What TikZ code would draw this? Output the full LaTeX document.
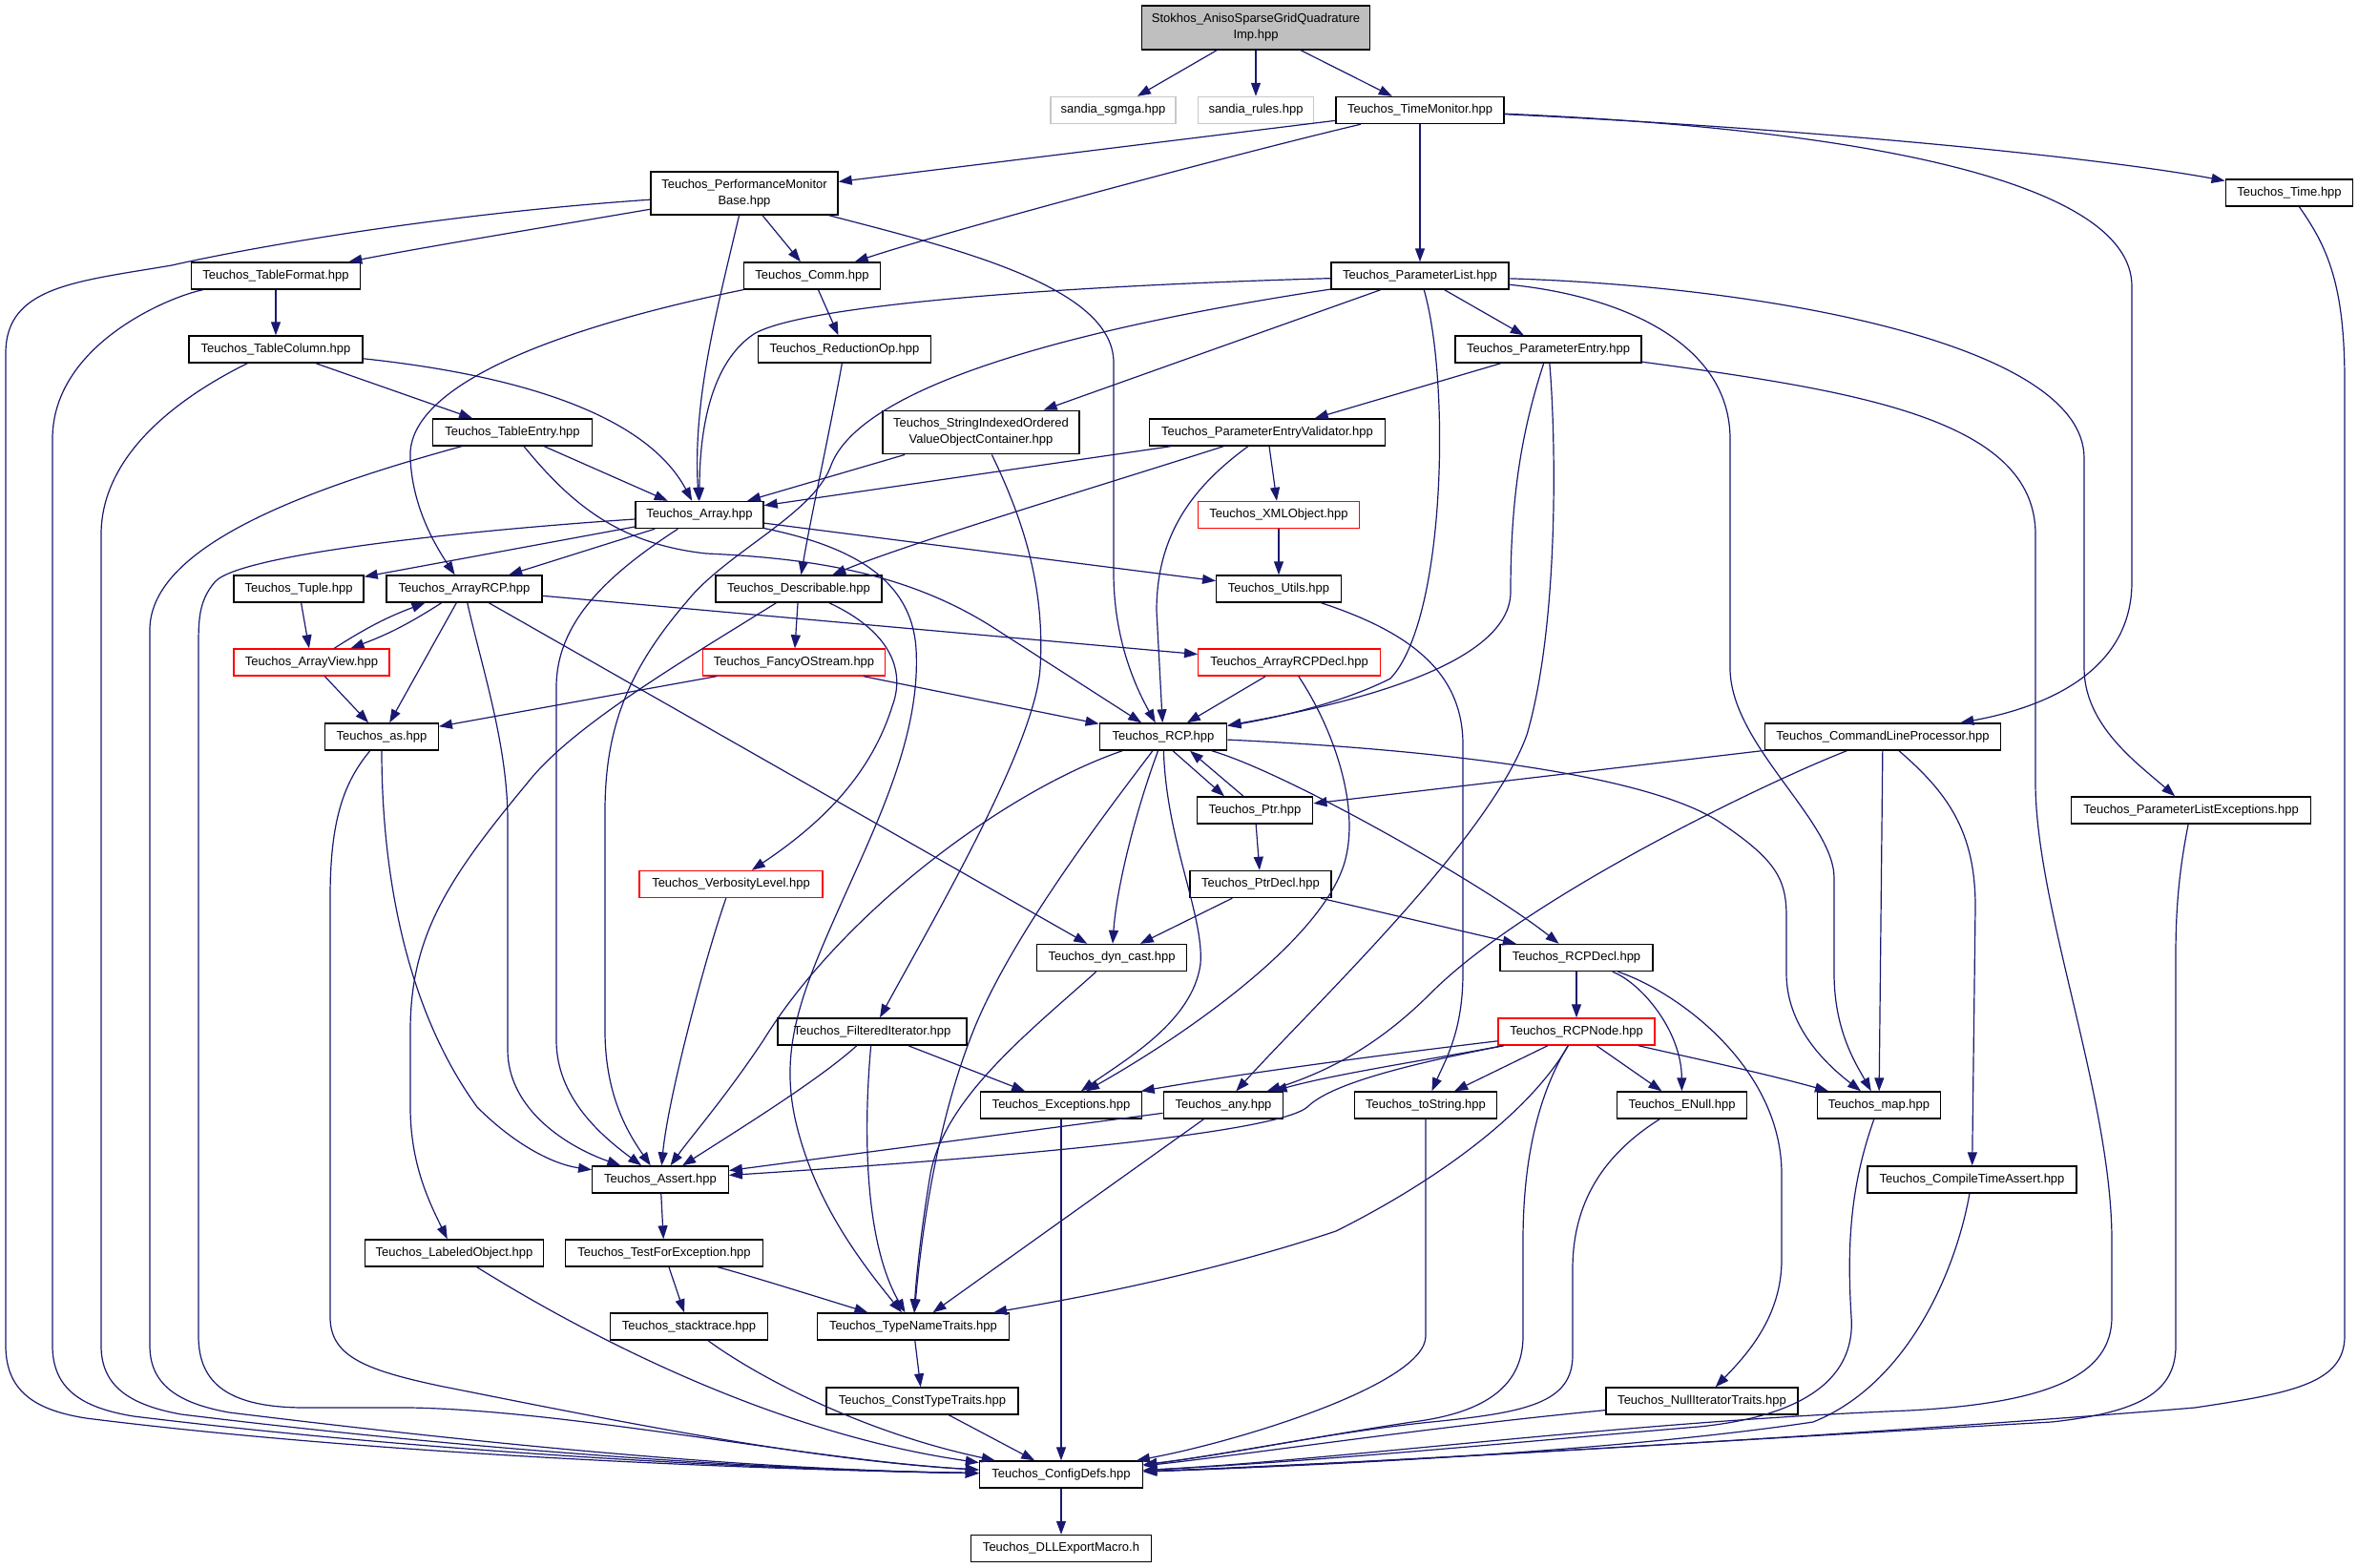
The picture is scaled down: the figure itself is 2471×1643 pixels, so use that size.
\documentclass[tikz,border=0pt]{standalone}
\usepackage{fontspec}
\setmainfont{Liberation Sans}
\usetikzlibrary{arrows.meta}
\definecolor{edgec}{HTML}{191970}
\definecolor{grayfill}{HTML}{BFBFBF}
\definecolor{grayline}{HTML}{C8C8C8}
\begin{document}
\begin{tikzpicture}[x=1pt,y=-1pt,
  box/.style={draw=black,line width=1.4pt,fill=white,minimum height=28pt,inner sep=0pt,
    font=\fontsize{13}{17}\selectfont,align=center},
  redbox/.style={box,draw=red},
  lightbox/.style={box,draw=grayline},
  topbox/.style={box,fill=grayfill},
  e/.style={draw=edgec,line width=1.2pt,-{Triangle[length=14pt,width=10pt]}}]
\fill[white] (0,0) rectangle (2471,1643);
\useasboundingbox (0,0) rectangle (2471,1643);

% ---------- nodes ----------
\node[topbox,minimum width=239,minimum height=46] (st) at (1316,29) {Stokhos\_AnisoSparseGridQuadrature\\Imp.hpp};
\node[lightbox,minimum width=131] (sg) at (1166.5,115.5) {sandia\_sgmga.hpp};
\node[lightbox,minimum width=120.5] (sr) at (1316,115.5) {sandia\_rules.hpp};
\node[box,minimum width=176] (tm) at (1488,115.5) {Teuchos\_TimeMonitor.hpp};
\node[box,minimum width=196,minimum height=45] (pmb) at (780,202.5) {Teuchos\_PerformanceMonitor\\Base.hpp};
\node[box,minimum width=133.5] (time) at (2399,202) {Teuchos\_Time.hpp};
\node[box,minimum width=177.5] (tf) at (289,289) {Teuchos\_TableFormat.hpp};
\node[box,minimum width=142.5] (comm) at (851,289) {Teuchos\_Comm.hpp};
\node[box,minimum width=186] (pl) at (1488,289) {Teuchos\_ParameterList.hpp};
\node[box,minimum width=182] (tc) at (289,366) {Teuchos\_TableColumn.hpp};
\node[box,minimum width=180.5] (rop) at (885,366) {Teuchos\_ReductionOp.hpp};
\node[box,minimum width=195] (pe) at (1622.5,366) {Teuchos\_ParameterEntry.hpp};
\node[box,minimum width=166.5] (te) at (537,453) {Teuchos\_TableEntry.hpp};
\node[box,minimum width=206,minimum height=45.5] (sio) at (1028,453) {Teuchos\_StringIndexedOrdered\\ValueObjectContainer.hpp};
\node[box,minimum width=246.5] (pev) at (1328,453) {Teuchos\_ParameterEntryValidator.hpp};
\node[box,minimum width=134] (arr) at (733,539.5) {Teuchos\_Array.hpp};
\node[redbox,minimum width=169] (xml) at (1340,539.5) {Teuchos\_XMLObject.hpp};
\node[box,minimum width=136] (tup) at (313,617) {Teuchos\_Tuple.hpp};
\node[box,minimum width=163] (arcp) at (486.5,617) {Teuchos\_ArrayRCP.hpp};
\node[box,minimum width=174] (desc) at (837,617) {Teuchos\_Describable.hpp};
\node[box,minimum width=130.5] (utils) at (1340,617) {Teuchos\_Utils.hpp};
\node[redbox,minimum width=163] (av) at (326.5,694) {Teuchos\_ArrayView.hpp};
\node[redbox,minimum width=191.5] (fos) at (832,694) {Teuchos\_FancyOStream.hpp};
\node[redbox,minimum width=190.5] (arcpd) at (1351,694) {Teuchos\_ArrayRCPDecl.hpp};
\node[box,minimum width=118.5] (as) at (400,772) {Teuchos\_as.hpp};
\node[box,minimum width=133.5] (rcp) at (1219,772) {Teuchos\_RCP.hpp};
\node[box,minimum width=247] (clp) at (1973,772) {Teuchos\_CommandLineProcessor.hpp};
\node[box,minimum width=121.5] (ptr) at (1315,849) {Teuchos\_Ptr.hpp};
\node[box,minimum width=251] (ple) at (2296,849) {Teuchos\_ParameterListExceptions.hpp};
\node[redbox,minimum width=192] (vl) at (766,926.5) {Teuchos\_VerbosityLevel.hpp};
\node[box,minimum width=148] (pd) at (1321,926.5) {Teuchos\_PtrDecl.hpp};
\node[box,minimum width=157.5] (dc) at (1165,1003.5) {Teuchos\_dyn\_cast.hpp};
\node[box,minimum width=160] (rcpd) at (1652,1003.5) {Teuchos\_RCPDecl.hpp};
\node[box,minimum width=198] (fi) at (914,1081) {Teuchos\_FilteredIterator.hpp};
\node[redbox,minimum width=164] (rcpn) at (1652,1081) {Teuchos\_RCPNode.hpp};
\node[box,minimum width=169.5] (exc) at (1112,1158) {Teuchos\_Exceptions.hpp};
\node[box,minimum width=125.5] (any) at (1282,1158) {Teuchos\_any.hpp};
\node[box,minimum width=149.5] (tos) at (1494,1158) {Teuchos\_toString.hpp};
\node[box,minimum width=136.5] (enull) at (1762.5,1158) {Teuchos\_ENull.hpp};
\node[box,minimum width=129.5] (map) at (1969,1158) {Teuchos\_map.hpp};
\node[box,minimum width=142.5] (assert) at (692,1236) {Teuchos\_Assert.hpp};
\node[box,minimum width=219] (cta) at (2066.5,1236) {Teuchos\_CompileTimeAssert.hpp};
\node[box,minimum width=187] (lo) at (476,1313) {Teuchos\_LabeledObject.hpp};
\node[box,minimum width=207] (tfe) at (696,1313) {Teuchos\_TestForException.hpp};
\node[box,minimum width=165.5] (stk) at (722,1390) {Teuchos\_stacktrace.hpp};
\node[box,minimum width=201.5] (tnt) at (957,1390) {Teuchos\_TypeNameTraits.hpp};
\node[box,minimum width=201] (ctt) at (966.5,1468) {Teuchos\_ConstTypeTraits.hpp};
\node[box,minimum width=201] (nit) at (1783.5,1468) {Teuchos\_NullIteratorTraits.hpp};
\node[box,minimum width=171] (cd) at (1112,1545) {Teuchos\_ConfigDefs.hpp};
\node[box,minimum width=188.5] (dll) at (1112,1622.5) {Teuchos\_DLLExportMacro.h};

% ---------- edges ----------
% top
\draw[e] (st) -- (sg);
\draw[e] (st) -- (sr);
\draw[e] (st) -- (tm);
% TimeMonitor
\draw[e] (tm) -- (pmb);
\draw[e] (tm) .. controls (1300,160) and (1000,240) .. (comm);
\draw[e] (tm) -- (pl);
\draw[e] (tm) .. controls (1900,135) and (2200,165) .. (time);
\draw[e] (tm) .. controls (1950,135) and (2234,190) .. (2234,300) -- (2234,610) .. controls (2234,700) and (2150,740) .. (clp);
% PerformanceMonitorBase
\draw[e] (pmb) .. controls (450,225) and (250,262) .. (180,278) .. controls (80,295) and (6,300) .. (6,370) -- (6,1410) .. controls (6,1460) and (40,1478) .. (90,1486) .. controls (400,1525) and (800,1540) .. (cd);
\draw[e] (pmb) .. controls (560,240) and (450,258) .. (tf);
\draw[e] (pmb) .. controls (750,330) and (726,420) .. (arr);
\draw[e] (pmb) -- (comm);
\draw[e] (pmb) .. controls (1000,260) and (1167,300) .. (1167,380) -- (1167,600) .. controls (1167,670) and (1190,720) .. (rcp);
% Table*
\draw[e] (tf) -- (tc);
\draw[e] (tf) .. controls (180,310) and (55,360) .. (55,460) -- (55,1410) .. controls (55,1455) and (85,1475) .. (140,1484) .. controls (450,1522) and (800,1540) .. (cd);
\draw[e] (tc) -- (te);
\draw[e] (tc) .. controls (560,395) and (680,440) .. (arr);
\draw[e] (tc) .. controls (200,410) and (106,470) .. (106,560) -- (106,1410) .. controls (106,1452) and (135,1472) .. (190,1482) .. controls (500,1520) and (800,1540) .. (cd);
\draw[e] (te) -- (arr);
\draw[e] (te) .. controls (600,530) and (650,570) .. (740,580) .. controls (850,585) and (950,600) .. (1040,657) -- (rcp);
\draw[e] (te) .. controls (330,510) and (157,570) .. (157,660) -- (157,1410) .. controls (157,1450) and (185,1470) .. (240,1480) .. controls (550,1518) and (800,1540) .. (cd);
% Comm
\draw[e] (comm) .. controls (600,340) and (425,400) .. (430,480) .. controls (432,530) and (455,570) .. (arcp);
\draw[e] (comm) -- (rop);
\draw[e] (rop) .. controls (870,450) and (850,540) .. (desc);
% ParameterList
\draw[e] (pl) .. controls (1100,300) and (840,320) .. (790,350) .. controls (745,380) and (733,450) .. (arr);
\draw[e] (pl) .. controls (1150,340) and (900,400) .. (870,490) .. controls (850,540) and (760,580) .. (720,630) .. controls (660,700) and (634,760) .. (634,850) -- (634,1080) .. controls (634,1150) and (660,1190) .. (assert);
\draw[e] (pl) -- (sio);
\draw[e] (pl) -- (pe);
\draw[e] (pl) .. controls (1520,400) and (1515,650) .. (1457,711) .. controls (1400,740) and (1320,755) .. (rcp);
\draw[e] (pl) .. controls (1700,310) and (1813,360) .. (1813,460) -- (1813,700) .. controls (1813,780) and (1922,860) .. (1922,920) -- (1922,1020) .. controls (1922,1080) and (1945,1115) .. (map);
\draw[e] (pl) .. controls (1850,300) and (2184,360) .. (2184,480) -- (2184,700) .. controls (2184,760) and (2240,800) .. (ple);
% ParameterEntry
\draw[e] (pe) -- (pev);
\draw[e] (pe) .. controls (1595,450) and (1583,520) .. (1583,620) .. controls (1583,700) and (1400,740) .. (rcp);
\draw[e] (pe) .. controls (1630,450) and (1635,650) .. (1600,770) .. controls (1560,880) and (1380,1050) .. (any);
\draw[e] (pe) .. controls (1950,410) and (2133,440) .. (2133,560) -- (2133,820) .. controls (2133,950) and (2213,1150) .. (2213,1300) -- (2213,1380) .. controls (2213,1440) and (2150,1470) .. (2000,1478) .. controls (1700,1490) and (1400,1530) .. (cd);
% Validator, SIO
\draw[e] (pev) -- (arr);
\draw[e] (sio) -- (arr);
\draw[e] (pev) .. controls (1150,510) and (950,570) .. (desc);
\draw[e] (pev) .. controls (1250,510) and (1212,560) .. (1212,640) -- (rcp);
\draw[e] (pev) -- (xml);
\draw[e] (xml) -- (utils);
\draw[e] (sio) .. controls (1075,550) and (1095,620) .. (1090,700) .. controls (1085,780) and (980,960) .. (fi);
% Array
\draw[e] (arr) -- (tup);
\draw[e] (arr) -- (arcp);
\draw[e] (arr) .. controls (640,600) and (583,650) .. (583,720) -- (583,1090) .. controls (583,1150) and (630,1190) .. (assert);
\draw[e] (arr) .. controls (880,570) and (955,600) .. (960,680) .. controls (965,770) and (920,860) .. (880,950) .. controls (840,1040) and (815,1100) .. (835,1180) .. controls (855,1260) and (900,1320) .. (tnt);
\draw[e] (arr) -- (utils);
\draw[e] (arr) .. controls (500,555) and (250,580) .. (225,610) .. controls (208,630) and (208,650) .. (208,680) -- (208,1400) .. controls (208,1450) and (240,1475) .. (320,1475) -- (430,1475) .. controls (600,1478) and (850,1530) .. (cd);
% Tuple, ArrayRCP, ArrayView
\draw[e] (tup) -- (av);
\draw[e] (arcp) to[bend left=6] (av);
\draw[e] (av) to[bend left=6] (arcp);
\draw[e] (arcp) -- (as);
\draw[e] (arcp) .. controls (505,700) and (532,780) .. (532,860) -- (532,1100) .. controls (532,1160) and (590,1200) .. (assert);
\draw[e] (arcp) -- (dc);
\draw[e] (arcp) -- (arcpd);
\draw[e] (av) -- (as);
% as
\draw[e] (as) .. controls (400,900) and (420,1050) .. (500,1160) .. controls (540,1200) and (580,1220) .. (assert);
\draw[e] (as) .. controls (360,820) and (346,860) .. (346,940) -- (346,1380) .. controls (346,1420) and (380,1435) .. (460,1452) .. controls (650,1490) and (850,1530) .. (cd);
% Describable, FancyOStream
\draw[e] (desc) -- (fos);
\draw[e] (desc) .. controls (930,660) and (950,700) .. (935,740) .. controls (910,820) and (850,870) .. (vl);
\draw[e] (desc) .. controls (720,690) and (600,760) .. (553,820) .. controls (470,920) and (430,980) .. (430,1080) -- (430,1160) .. controls (430,1220) and (450,1260) .. (lo);
\draw[e] (fos) -- (as);
\draw[e] (fos) -- (rcp);
\draw[e] (vl) .. controls (740,1000) and (700,1150) .. (assert);
% Utils, ArrayRCPDecl
\draw[e] (utils) .. controls (1470,660) and (1533,700) .. (1533,780) -- (1533,1020) .. controls (1533,1080) and (1515,1110) .. (tos);
\draw[e] (arcpd) -- (rcp);
\draw[e] (arcpd) .. controls (1395,760) and (1425,840) .. (1410,900) .. controls (1390,980) and (1250,1080) .. (exc);
% RCP
\draw[e] ([xshift=10pt]rcp.south) -- ([xshift=-32pt]ptr.north);
\draw[e] ([xshift=-12pt]ptr.north) -- ([xshift=28pt]rcp.south);
\draw[e] (rcp) .. controls (1190,850) and (1170,930) .. (dc);
\draw[e] (rcp) .. controls (1222,880) and (1262,960) .. (1258,1010) .. controls (1250,1070) and (1180,1110) .. (exc);
\draw[e] (rcp) .. controls (1160,850) and (1060,980) .. (1020,1080) .. controls (980,1180) and (965,1300) .. (tnt);
\draw[e] (rcp) .. controls (1350,810) and (1560,930) .. (rcpd);
\draw[e] (rcp) .. controls (1500,785) and (1720,810) .. (1800,860) .. controls (1860,900) and (1872,920) .. (1872,960) -- (1872,1020) .. controls (1872,1080) and (1920,1120) .. (map);
\draw[e] (rcp) .. controls (1050,830) and (880,960) .. (800,1090) .. controls (760,1150) and (725,1190) .. (assert);
% CommandLineProcessor
\draw[e] (clp) -- (ptr);
\draw[e] (clp) .. controls (1850,820) and (1600,940) .. (1500,1040) .. controls (1450,1090) and (1400,1120) .. (any);
\draw[e] (clp) -- (map);
\draw[e] (clp) .. controls (2040,830) and (2070,870) .. (2070,950) -- (cta);
% Ptr, PtrDecl, RCPDecl
\draw[e] (ptr) -- (pd);
\draw[e] (pd) -- (dc);
\draw[e] (pd) -- (rcpd);
\draw[e] (rcpd) -- (rcpn);
\draw[e] (rcpd) .. controls (1720,1030) and (1762,1080) .. (enull);
\draw[e] (rcpd) .. controls (1760,1040) and (1867,1120) .. (1867,1230) -- (1867,1320) .. controls (1867,1380) and (1830,1420) .. (nit);
% RCPNode
\draw[e] (rcpn) .. controls (1450,1105) and (1300,1125) .. (exc);
\draw[e] (rcpn) .. controls (1500,1110) and (1400,1125) .. (any);
\draw[e] (rcpn) -- (tos);
\draw[e] (rcpn) -- (enull);
\draw[e] (rcpn) .. controls (1780,1110) and (1850,1125) .. (map);
\draw[e] (rcpn) .. controls (1450,1120) and (1390,1140) .. (1370,1160) .. controls (1340,1185) and (1100,1210) .. (assert);
\draw[e] (rcpn) .. controls (1600,1170) and (1500,1240) .. (1400,1290) .. controls (1250,1340) and (1100,1365) .. (tnt);
\draw[e] (rcpn) .. controls (1610,1150) and (1596,1220) .. (1596,1300) -- (1596,1400) .. controls (1596,1450) and (1560,1480) .. (1480,1490) .. controls (1380,1505) and (1280,1525) .. (cd);
% dyn_cast, FilteredIterator, any
\draw[e] (dc) .. controls (1080,1080) and (990,1150) .. (975,1230) .. controls (965,1290) and (960,1340) .. (tnt);
\draw[e] (fi) .. controls (860,1130) and (780,1180) .. (assert);
\draw[e] (fi) .. controls (905,1180) and (905,1300) .. (tnt);
\draw[e] (fi) -- (exc);
\draw[e] (any) -- (assert);
\draw[e] (any) -- (tnt);
% lower chain
\draw[e] (assert) -- (tfe);
\draw[e] (tfe) -- (stk);
\draw[e] (tfe) .. controls (780,1335) and (860,1360) .. (tnt);
\draw[e] (tnt) -- (ctt);
\draw[e] (ctt) -- (cd);
\draw[e] (stk) .. controls (790,1440) and (900,1500) .. (cd);
\draw[e] (lo) .. controls (600,1390) and (800,1500) .. (cd);
\draw[e] (exc) -- (cd);
\draw[e] (tos) -- (1494,1400) .. controls (1494,1450) and (1300,1510) .. (cd);
\draw[e] (enull) .. controls (1680,1210) and (1648,1260) .. (1648,1330) -- (1648,1420) .. controls (1648,1470) and (1600,1480) .. (1500,1490) .. controls (1400,1500) and (1280,1525) .. (cd);
\draw[e] (nit) .. controls (1500,1495) and (1300,1525) .. (cd);
\draw[e] (map) .. controls (1940,1240) and (1935,1300) .. (1940,1380) .. controls (1945,1450) and (1880,1485) .. (1780,1495) .. controls (1600,1510) and (1400,1530) .. (cd);
\draw[e] (cta) .. controls (2050,1330) and (2000,1450) .. (1900,1490) .. controls (1700,1520) and (1400,1535) .. (cd);
\draw[e] (ple) .. controls (2286,900) and (2280,940) .. (2280,1000) -- (2280,1410) .. controls (2280,1460) and (2240,1480) .. (2150,1490) .. controls (1800,1510) and (1400,1535) .. (cd);
\draw[e] (time) .. controls (2440,260) and (2457,300) .. (2457,400) -- (2457,1400) .. controls (2457,1450) and (2400,1460) .. (2300,1475) .. controls (2000,1500) and (1500,1530) .. (cd);
\draw[e] (cd) -- (dll);
\end{tikzpicture}
\end{document}
